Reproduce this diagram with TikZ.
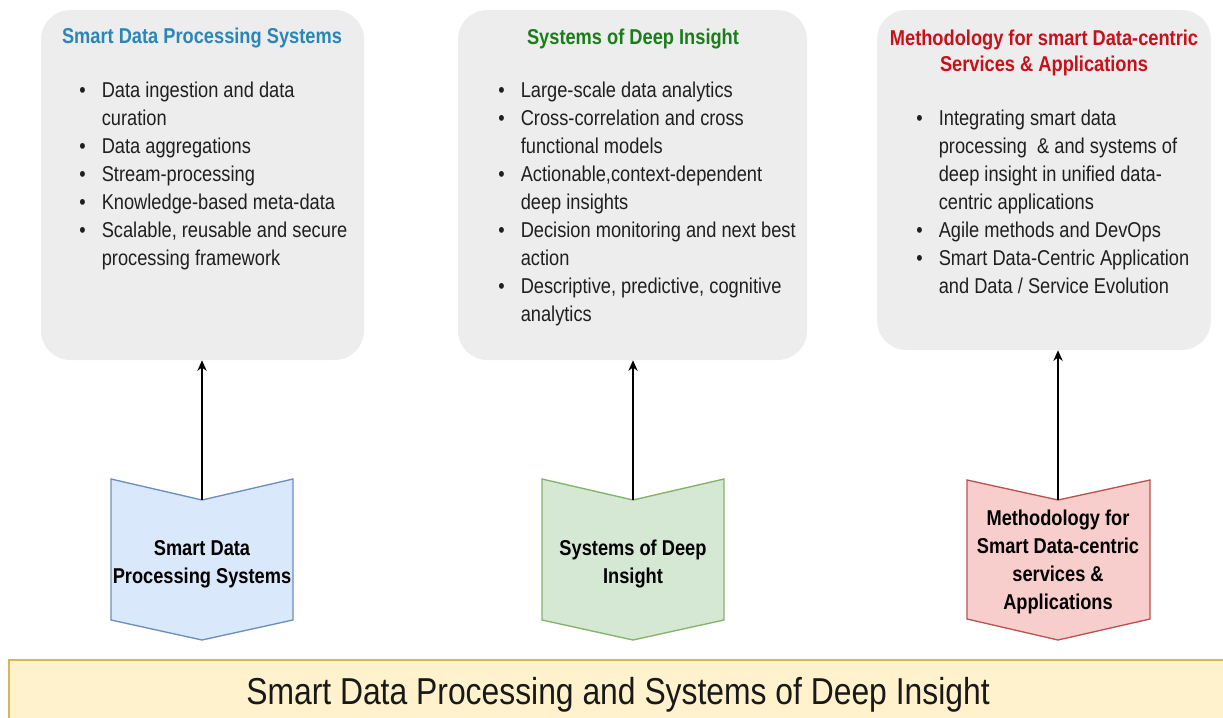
\documentclass[tikz,border=0pt]{standalone}
\usepackage{fontspec}
\setmainfont{Liberation Sans}[FakeStretch=0.85]
\usetikzlibrary{arrows.meta}
\definecolor{boxgray}{HTML}{EDEDED}
\definecolor{tblue}{HTML}{2A86B8}
\definecolor{tgreen}{HTML}{1A7D1A}
\definecolor{tred}{HTML}{C8101A}
\definecolor{bfill}{HTML}{DAE8FC}\definecolor{bdraw}{HTML}{6C8EBF}
\definecolor{gfill}{HTML}{D5E8D4}\definecolor{gdraw}{HTML}{82B366}
\definecolor{rfill}{HTML}{F8CECC}\definecolor{rdraw}{HTML}{B85450}
\definecolor{yfill}{HTML}{FFF2CC}\definecolor{ydraw}{HTML}{D6B656}
\newcommand\bul{\makebox[16.9pt][l]{\textbullet}}
\newcommand\ind{\hspace*{16.9pt}}
\begin{document}
\begin{tikzpicture}[x=0.75pt,y=-0.75pt,
  panel/.style={draw=none, fill=boxgray, rounded corners=22pt, inner sep=0pt},
  ttl/.style={anchor=base, inner sep=0pt, font=\bfseries\fontsize{16.1}{20.25}\selectfont, align=center},
  lst/.style={anchor=base west, inner sep=0pt, font=\fontsize{16.1}{21}\selectfont, align=left, text=black!88},
  chev/.style={line width=1pt},
  chtxt/.style={anchor=base, inner sep=0pt, font=\bfseries\fontsize{16.1}{20.8}\selectfont, align=center},
  arr/.style={-{Stealth[length=8pt,width=7pt]}, line width=1.1pt, black}
]
\useasboundingbox (0,0) rectangle (1223,717);
% panels
\node[panel, minimum width=242.25pt, minimum height=262.5pt] (b1) at (202.5,185) {};
\node[panel, minimum width=261.75pt, minimum height=262.5pt] (b2) at (632.5,185) {};
\node[panel, minimum width=250.5pt, minimum height=255pt] (b3) at (1044,180) {};
% titles (base anchor = last line)
\node[ttl, text=tblue] (t1) at (202,44) {Smart Data Processing Systems};
\node[ttl, text=tgreen] (t2) at (633,45) {Systems of Deep Insight};
\node[ttl, text=tred] (t3) at (1044,72) {Methodology for smart Data-centric\\Services \& Applications};
% lists (base anchor = last line)
\node[lst] (l1) at (79,265) {\bul Data ingestion and data\\\ind curation\\\bul Data aggregations\\\bul Stream-processing\\\bul Knowledge-based meta-data\\\bul Scalable, reusable and secure\\\ind processing framework};
\node[lst] (l2) at (498,321) {\bul Large-scale data analytics\\\bul Cross-correlation and cross\\\ind functional models\\\bul Actionable,context-dependent\\\ind deep insights\\\bul Decision monitoring and next best\\\ind action\\\bul Descriptive, predictive, cognitive\\\ind analytics};
\node[lst] (l3) at (916,293) {\bul Integrating smart data\\\ind processing\ \ \& and systems of\\\ind deep insight in unified data-\\\ind centric applications\\\bul Agile methods and DevOps\\\bul Smart Data-Centric Application\\\ind and Data / Service Evolution};
% chevrons
\draw[chev, fill=bfill, draw=bdraw] (111,479) -- (202,500) -- (293,479) -- (293,620) -- (202,640) -- (111,620) -- cycle;
\draw[chev, fill=gfill, draw=gdraw] (542,479) -- (633,500) -- (724,479) -- (724,620) -- (633,640) -- (542,620) -- cycle;
\draw[chev, fill=rfill, draw=rdraw] (967,480) -- (1058,500) -- (1150,480) -- (1150,619) -- (1058,640) -- (967,619) -- cycle;
\node[chtxt] (s1) at (202,583) {Smart Data\\Processing Systems};
\node[chtxt] (s2) at (633,583) {Systems of Deep\\Insight};
\node[chtxt] (s3) at (1058,609) {Methodology for\\Smart Data-centric\\services \&\\Applications};
% connectors
\coordinate (n1) at (202,500);
\coordinate (n2) at (633,500);
\coordinate (n3) at (1058,500);
\draw[arr] (n1) -- (n1 |- b1.south);
\draw[arr] (n2) -- (n2 |- b2.south);
\draw[arr] (n3) -- (n3 |- b3.south);
% banner
\node[draw=ydraw, fill=yfill, line width=1.5pt, inner sep=0pt, minimum width=923.25pt, minimum height=52.5pt] (ban) at (624.5,695) {};
\node[anchor=base, inner sep=0pt, font=\fontsize{28.1}{34}\selectfont, text=black!90] (bt) at (618,704) {Smart Data Processing and Systems of Deep Insight};
\end{tikzpicture}
\end{document}
